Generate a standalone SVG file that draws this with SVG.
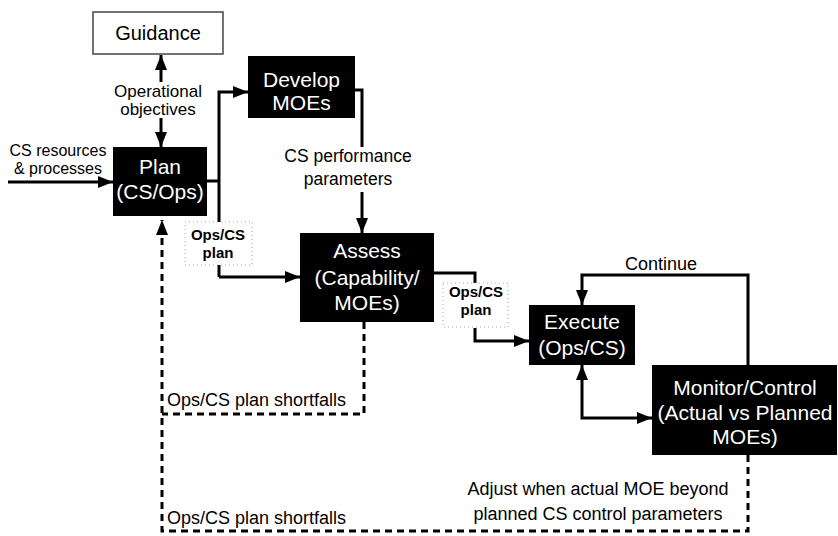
<svg xmlns="http://www.w3.org/2000/svg" width="838" height="536" viewBox="0 0 838 536">
<defs>
<marker id="ah" markerWidth="15" markerHeight="12" refX="15" refY="6" orient="auto-start-reverse" markerUnits="userSpaceOnUse"><path d="M0,0 L15,6 L0,12 z" fill="#000"/></marker>
</defs>
<style>
.box{fill:#000}
.nt{font-family:"Liberation Sans",Arial,sans-serif;font-size:21px;fill:#fff;text-anchor:middle}
.lb{font-family:"Liberation Sans",Arial,sans-serif;font-size:18px;fill:#000}
.c{text-anchor:middle}
.ln{fill:none;stroke:#000;stroke-width:3}
.ds{fill:none;stroke:#000;stroke-width:3;stroke-dasharray:7 5}
.tag{fill:#fff;stroke:#aaa;stroke-width:1;stroke-dasharray:1 3}
.sm{font-family:"Liberation Sans",Arial,sans-serif;font-size:15px;font-weight:bold;fill:#000;text-anchor:middle}
</style>
<rect width="838" height="536" fill="#fff"/>
<g id="connectors">
<path class="ln" d="M8,182 H113" marker-end="url(#ah)"/>
<path class="ln" d="M161,82 V55" marker-end="url(#ah)"/>
<path class="ln" d="M161,118 V147" marker-end="url(#ah)"/>
<path class="ln" d="M207,181 H219"/>
<path class="ln" d="M219,277 V92 H248" marker-end="url(#ah)"/>
<path class="ln" d="M219,277 H300" marker-end="url(#ah)"/>
<path class="ln" d="M355,90 H362 V147"/>
<path class="ln" d="M362,192 V233" marker-end="url(#ah)"/>
<path class="ln" d="M434,273 H475 V285"/>
<path class="ln" d="M475,328 V341 H529" marker-end="url(#ah)"/>
<path class="ln" d="M748,365 V275 H582 V305" marker-end="url(#ah)"/>
<path class="ln" d="M582,365 V418 H652" marker-start="url(#ah)" marker-end="url(#ah)"/>
<path class="ds" d="M364,322 V414 H162"/>
<path class="ds" d="M748,455 V531 H162 V220" marker-end="url(#ah)"/>
</g>
<g id="guidance">
<rect x="93" y="12" width="130" height="42" fill="#fff" stroke="#444" stroke-width="1.5"/>
<text x="158" y="40" class="lb c" style="font-size:20px">Guidance</text>
</g>
<g id="plan">
<rect class="box" x="113" y="147" width="94" height="69"/>
<text class="nt" x="160" y="174">Plan</text>
<text class="nt" x="160" y="199">(CS/Ops)</text>
</g>
<g id="develop">
<rect class="box" x="248" y="56" width="107" height="62"/>
<text class="nt" x="301.5" y="87">Develop</text>
<text class="nt" x="301.5" y="110">MOEs</text>
</g>
<g id="assess">
<rect class="box" x="300" y="233" width="134" height="89"/>
<text class="nt" x="367" y="258">Assess</text>
<text class="nt" x="367" y="285">(Capability/</text>
<text class="nt" x="367" y="310">MOEs)</text>
</g>
<g id="execute">
<rect class="box" x="529" y="305" width="106" height="60"/>
<text class="nt" x="582" y="329">Execute</text>
<text class="nt" x="582" y="355">(Ops/CS)</text>
</g>
<g id="monitor">
<rect class="box" x="652" y="365" width="185" height="90"/>
<text class="nt" x="745" y="395">Monitor/Control</text>
<text class="nt" x="745" y="420">(Actual vs Planned</text>
<text class="nt" x="745" y="444">MOEs)</text>
</g>
<g id="labels">
<text class="lb c" x="158" y="97" style="font-size:17px">Operational</text>
<text class="lb c" x="158" y="115" style="font-size:17px">objectives</text>
<text class="lb c" x="58" y="156" style="font-size:16px">CS resources</text>
<text class="lb c" x="58" y="174" style="font-size:16px">&amp; processes</text>
<text class="lb c" x="348" y="162" style="font-size:17.5px">CS performance</text>
<text class="lb c" x="348" y="185" style="font-size:17.5px">parameters</text>
<rect class="tag" x="185" y="222" width="67" height="43"/>
<text class="sm" x="218" y="240">Ops/CS</text>
<text class="sm" x="218" y="258">plan</text>
<rect class="tag" x="443" y="283" width="65" height="44"/>
<text class="sm" x="476" y="297">Ops/CS</text>
<text class="sm" x="476" y="315">plan</text>
<text class="lb c" x="661" y="270">Continue</text>
<text class="lb" x="167" y="406">Ops/CS plan shortfalls</text>
<text class="lb" x="167" y="524">Ops/CS plan shortfalls</text>
<text class="lb c" x="598" y="495">Adjust when actual MOE beyond</text>
<text class="lb c" x="598" y="520">planned CS control parameters</text>
</g>
</svg>
